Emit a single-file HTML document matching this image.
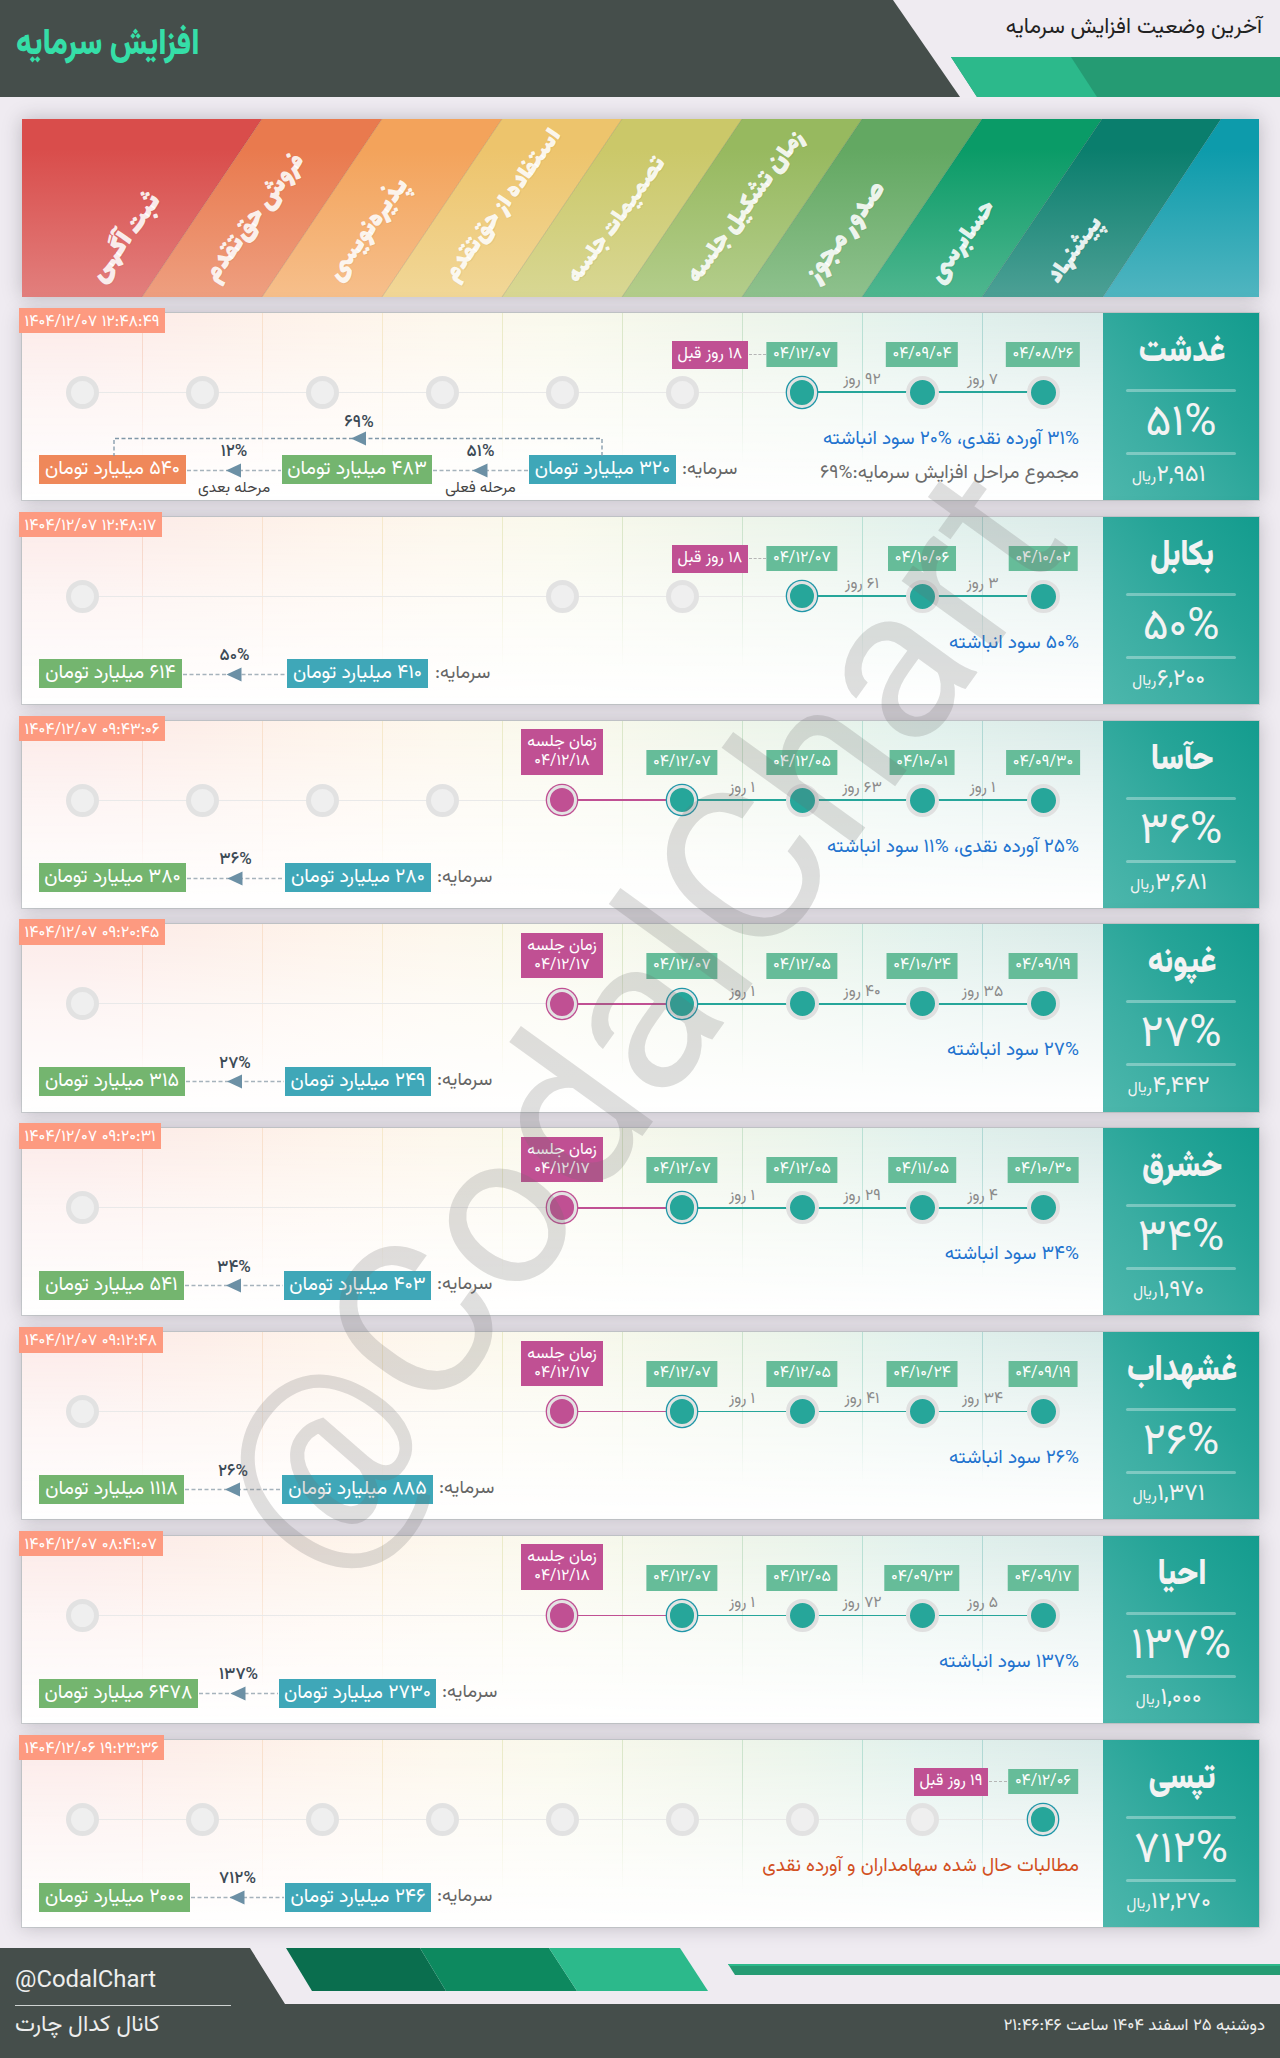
<!DOCTYPE html><html lang="fa" dir="rtl"><head><meta charset="utf-8"><title>افزایش سرمایه</title><style>
*{box-sizing:border-box;margin:0;padding:0}
html,body{width:1280px;height:2058px}
body{position:relative;background:#efebf1;overflow:hidden;font-family:"Vazirmatn","DejaVu Sans","Liberation Sans",sans-serif;direction:rtl}
.abs{position:absolute}
.hd{position:absolute;left:0;top:0}
.title{position:absolute;left:16px;top:21px;font-size:36px;font-weight:900;color:#35dea8;white-space:nowrap;line-height:48px;transform-origin:0 50%;transform:scaleX(.851)}
.sub{position:absolute;right:18px;top:12px;font-size:21.7px;color:#222;white-space:nowrap;line-height:32px}
.banner{position:absolute;left:22px;top:119px;width:1237px;height:178px;box-shadow:0 0 18px rgba(52,48,58,.27);overflow:hidden}
.banner svg{position:absolute;left:0;top:0}
.bl{position:absolute;white-space:nowrap;font-family:"Lalezar","Vazirmatn","DejaVu Sans","Liberation Sans",sans-serif;font-weight:700;font-synthesis:none;font-size:29.5px;line-height:36px;height:36px;color:rgba(255,255,255,.88);transform-origin:0 100%;transform:rotate(-54deg);text-shadow:0 1px 1px rgba(0,0,0,.06)}
.row{position:absolute;left:22px;width:1237px;height:187.2px;background:#fff;box-shadow:0 0 0 1px rgba(165,175,175,.45),0 0 18px rgba(52,48,58,.27)}
.tint{position:absolute;left:0;top:0;width:1081px;height:100%;background:linear-gradient(to bottom,rgba(255,255,255,0) 0%,rgba(255,255,255,.55) 45%,#fff 100%),linear-gradient(to right,#fceae8 0px,#fceae8 60px,#fdeee8 180px,#fef3ea 300px,#fdf7ec 420px,#f9f9ec 540px,#f2f6ea 660px,#eaf4ea 780px,#e1f1ec 900px,#dcece9 1020px,#d8eae8 1081px)}
.vl{position:absolute;top:0;width:1px;height:100%}
.hl{position:absolute;left:60px;top:79px;width:961px;height:1px;background:#e9e9e9}
.panel{position:absolute;left:1081px;top:0;width:156px;height:100%;background:linear-gradient(52deg,#4db7ac 0%,#3aada2 35%,#25a497 65%,#139c8e 100%);color:#f3f3f3}
.sym{position:absolute;left:1px;width:156px;top:15px;text-align:center;font-weight:900;font-size:36px;line-height:48px;white-space:nowrap;transform:scaleX(.85)}
.pl{position:absolute;left:23px;width:110px;height:3px;border-radius:2px;background:rgba(255,255,255,.33)}
.pct{position:absolute;left:0;width:156px;top:85px;text-align:center;font-size:44px;font-weight:370;line-height:54px;white-space:nowrap}
.price{position:absolute;left:0;width:156px;top:147px;text-align:center;font-size:23.5px;line-height:32px;white-space:nowrap}
.price small{position:absolute;font-size:15.5px;line-height:32px;top:1px;margin-right:.5px}
.price span{position:relative;display:inline-block}
.ts{position:absolute;left:-3px;top:-5px;height:25.5px;line-height:29px;padding:0 5.5px;background:#fd9a80;color:#fff;font-size:16.2px;direction:ltr;white-space:nowrap}
.db{position:absolute;top:29px;height:25.6px;line-height:26px;background:#66bc99;color:#fff;font-size:15.9px;text-align:center;direction:ltr;white-space:nowrap;padding:0 6.7px;transform:translateX(-50%)}
.pk{position:absolute;background:#c05093;color:#fff;text-align:center;white-space:nowrap}
.ago{top:28px;height:28px;line-height:27.5px;font-size:16.2px}
.mt{top:8.5px;width:82px;height:45.5px;font-size:16px;line-height:19px;padding-top:4px}
.mt i{font-style:normal;display:block;direction:ltr;font-size:15.8px}
.dsh{position:absolute;height:0;border-top:1.5px dashed #b5b5b5}
.c{position:absolute;top:63px;width:33px;height:33px;border-radius:50%}
.c.e{background:#efefef;border:5px solid #e2e2e2}
.c.t{background:#26a69a;border:4px solid #e0e0e0}
.c.cur{background:#26a69a;border:3.3px solid #e3e3e3;box-shadow:0 0 0 1.3px #1f97a8;width:30.6px;height:30.6px;top:64.2px}
.c.p{background:#c05093;border:3.3px solid #e3e3e3;box-shadow:0 0 0 1.3px #c05093;width:30.6px;height:30.6px;top:64.2px}
.ln{position:absolute;top:78.7px;height:1.6px}
.gap{position:absolute;top:56.3px;width:80px;text-align:center;font-size:15.7px;line-height:22px;color:#8a8a8a;white-space:nowrap}
.desc{position:absolute;right:180px;white-space:nowrap;font-size:19.1px;line-height:30px}
.d1{top:111px;color:#2273cf}
.d2{top:145px;color:#6b6b6b}
.cap{position:absolute;top:142.7px;height:29px;line-height:28px;color:#fff;font-size:19.5px;text-align:center;white-space:nowrap}
.cl{position:absolute;top:142px;font-size:18.5px;line-height:30px;color:#666;white-space:nowrap}
.ar{position:absolute;left:0;top:0}
.lb{position:absolute;width:90px;text-align:center;white-space:nowrap;color:#3c4a55}
.lp{font-size:17px;line-height:20px;margin-top:1.5px;font-weight:500}
.ls{font-size:15.3px;line-height:18px;color:#444}
.wm{position:absolute;left:0;top:0;pointer-events:none}
.ft{position:absolute;left:0;top:1948px}
.f1{position:absolute;left:15px;top:1963px}
.f2{position:absolute;left:15px;top:2005px;width:216px;height:1px;background:#cfd3d2}
.f3{position:absolute;left:15px;top:2010px;font-size:22.8px;line-height:32px;color:#eee;white-space:nowrap}
.f4{position:absolute;right:15px;top:2013px;font-size:16.8px;line-height:26px;color:#eee;white-space:nowrap}
</style></head><body>
<svg class="hd" width="1280" height="98" viewBox="0 0 1280 98"><polygon points="0,0 893,0 960,97 0,97" fill="#454e4b"/><polygon points="951,57 1280,57 1280,97 977,97" fill="#259b73"/><polygon points="951,57 1071,57 1097,97 977,97" fill="#2cb98b"/></svg>
<div class="title">افزایش سرمایه</div>
<div class="sub">آخرین وضعیت افزایش سرمایه</div>
<div class="banner"><svg width="1237" height="178" viewBox="0 0 1237 178"><defs>
<linearGradient id="g0" x1="0" y1="0" x2="0" y2="1"><stop offset="0" stop-color="#d94d4b"/><stop offset=".17" stop-color="#d94d4b"/><stop offset="1" stop-color="#e27f7d"/></linearGradient>
<linearGradient id="g1" x1="0" y1="0" x2="0" y2="1"><stop offset="0" stop-color="#e97a4e"/><stop offset=".17" stop-color="#e97a4e"/><stop offset="1" stop-color="#ee9f80"/></linearGradient>
<linearGradient id="g2" x1="0" y1="0" x2="0" y2="1"><stop offset="0" stop-color="#f3a35b"/><stop offset=".17" stop-color="#f3a35b"/><stop offset="1" stop-color="#f6bf8b"/></linearGradient>
<linearGradient id="g3" x1="0" y1="0" x2="0" y2="1"><stop offset="0" stop-color="#edc46c"/><stop offset=".17" stop-color="#edc46c"/><stop offset="1" stop-color="#f1d797"/></linearGradient>
<linearGradient id="g4" x1="0" y1="0" x2="0" y2="1"><stop offset="0" stop-color="#cbc869"/><stop offset=".17" stop-color="#cbc869"/><stop offset="1" stop-color="#d8d793"/></linearGradient>
<linearGradient id="g5" x1="0" y1="0" x2="0" y2="1"><stop offset="0" stop-color="#97b95f"/><stop offset=".17" stop-color="#97b95f"/><stop offset="1" stop-color="#b3cd8b"/></linearGradient>
<linearGradient id="g6" x1="0" y1="0" x2="0" y2="1"><stop offset="0" stop-color="#63a862"/><stop offset=".17" stop-color="#63a862"/><stop offset="1" stop-color="#8ec18d"/></linearGradient>
<linearGradient id="g7" x1="0" y1="0" x2="0" y2="1"><stop offset="0" stop-color="#0a9b67"/><stop offset=".17" stop-color="#0a9b67"/><stop offset="1" stop-color="#4fb68f"/></linearGradient>
<linearGradient id="g8" x1="0" y1="0" x2="0" y2="1"><stop offset="0" stop-color="#0a7e6d"/><stop offset=".17" stop-color="#0a7e6d"/><stop offset="1" stop-color="#4ca095"/></linearGradient>
<linearGradient id="g9" x1="0" y1="0" x2="0" y2="1"><stop offset="0" stop-color="#0d9bab"/><stop offset=".17" stop-color="#0d9bab"/><stop offset="1" stop-color="#50b5c0"/></linearGradient>
</defs>
<polygon points="0,0 240,0 120,178 0,178" fill="url(#g0)"/>
<polygon points="240,0 360,0 240,178 120,178" fill="url(#g1)"/>
<polygon points="360,0 480,0 360,178 240,178" fill="url(#g2)"/>
<polygon points="480,0 600,0 480,178 360,178" fill="url(#g3)"/>
<polygon points="600,0 720,0 600,178 480,178" fill="url(#g4)"/>
<polygon points="720,0 840,0 720,178 600,178" fill="url(#g5)"/>
<polygon points="840,0 960,0 840,178 720,178" fill="url(#g6)"/>
<polygon points="960,0 1080,0 960,178 840,178" fill="url(#g7)"/>
<polygon points="1080,0 1199,0 1081,178 960,178" fill="url(#g8)"/>
<polygon points="1199,0 1237,0 1237,178 1081,178" fill="url(#g9)"/>
<line x1="240" y1="0" x2="120" y2="178" stroke="rgba(0,0,0,.12)" stroke-width="1"/>
<line x1="360" y1="0" x2="240" y2="178" stroke="rgba(0,0,0,.12)" stroke-width="1"/>
<line x1="480" y1="0" x2="360" y2="178" stroke="rgba(0,0,0,.12)" stroke-width="1"/>
<line x1="600" y1="0" x2="480" y2="178" stroke="rgba(0,0,0,.12)" stroke-width="1"/>
<line x1="720" y1="0" x2="600" y2="178" stroke="rgba(0,0,0,.12)" stroke-width="1"/>
<line x1="840" y1="0" x2="720" y2="178" stroke="rgba(0,0,0,.12)" stroke-width="1"/>
<line x1="960" y1="0" x2="840" y2="178" stroke="rgba(0,0,0,.12)" stroke-width="1"/>
<line x1="1080" y1="0" x2="960" y2="178" stroke="rgba(0,0,0,.12)" stroke-width="1"/>
<line x1="1199" y1="0" x2="1081" y2="178" stroke="rgba(0,0,0,.12)" stroke-width="1"/>
</svg>
<div class="bl" style="left:89.1px;top:134.9px;font-size:30.81px">ثبت آگهی</div>
<div class="bl" style="left:203.0px;top:135.1px;font-size:29.41px">فروش حق‌تقدم</div>
<div class="bl" style="left:326.0px;top:134.3px;font-size:29.25px">پذیره‌نویسی</div>
<div class="bl" style="left:443.0px;top:135.4px;font-size:27.68px">استفاده از حق‌تقدم</div>
<div class="bl" style="left:565.9px;top:136.6px;font-size:26.9px">تصمیمات جلسه</div>
<div class="bl" style="left:686.4px;top:137.0px;font-size:28.26px">زمان تشکیل جلسه</div>
<div class="bl" style="left:804.8px;top:135.4px;font-size:30.96px">صدور مجوز</div>
<div class="bl" style="left:927.7px;top:136.5px;font-size:28.86px">حسابرسی</div>
<div class="bl" style="left:1046.0px;top:136.6px;font-size:27.0px">پیشنهاد</div>
</div>
<div class="row" style="top:312.8px"><div class="tint"></div><div class="vl" style="left:120px;background:linear-gradient(to bottom,#f6d3c4 0%,#f6d3c4 20%,rgba(255,255,255,0) 80%);opacity:.8"></div><div class="vl" style="left:240px;background:linear-gradient(to bottom,#f8ddc6 0%,#f8ddc6 20%,rgba(255,255,255,0) 80%);opacity:.8"></div><div class="vl" style="left:360px;background:linear-gradient(to bottom,#f5e6c4 0%,#f5e6c4 20%,rgba(255,255,255,0) 80%);opacity:.8"></div><div class="vl" style="left:480px;background:linear-gradient(to bottom,#e8e8c0 0%,#e8e8c0 20%,rgba(255,255,255,0) 80%);opacity:.8"></div><div class="vl" style="left:600px;background:linear-gradient(to bottom,#d5e3c1 0%,#d5e3c1 20%,rgba(255,255,255,0) 80%);opacity:.8"></div><div class="vl" style="left:720px;background:linear-gradient(to bottom,#c4dfc6 0%,#c4dfc6 20%,rgba(255,255,255,0) 80%);opacity:.8"></div><div class="vl" style="left:840px;background:linear-gradient(to bottom,#aedccf 0%,#aedccf 20%,rgba(255,255,255,0) 80%);opacity:.8"></div><div class="vl" style="left:960px;background:linear-gradient(to bottom,#a5d3cf 0%,#a5d3cf 20%,rgba(255,255,255,0) 80%);opacity:.8"></div><div class="hl"></div><div class="panel"><div class="sym">غدشت</div><div class="pl" style="top:76px"></div><div class="pct" dir="ltr">۵۱%</div><div class="pl" style="top:139px"></div><div class="price"><span>۲,۹۵۱<small>ریال</small></span></div></div><div class="ln" style="left:780px;width:241px;background:#26a69a"></div><div class="c e" style="left:43.5px"></div><div class="c e" style="left:163.5px"></div><div class="c e" style="left:283.5px"></div><div class="c e" style="left:403.5px"></div><div class="c e" style="left:523.5px"></div><div class="c e" style="left:643.5px"></div><div class="c t" style="left:1004.5px"></div><div class="db" style="left:1021px">۰۴/۰۸/۲۶</div><div class="c t" style="left:883.5px"></div><div class="db" style="left:900px">۰۴/۰۹/۰۴</div><div class="c cur" style="left:764.7px"></div><div class="db" style="left:780px">۰۴/۱۲/۰۷</div><div class="gap" style="left:920.5px">۷ روز</div><div class="gap" style="left:800.0px">۹۲ روز</div><div class="pk ago" style="left:650px;width:76px">۱۸ روز قبل</div><div class="dsh" style="left:727px;width:17.0px;top:41.5px"></div><div class="desc d1"><span dir="ltr">۳۱%</span> آورده نقدی، <span dir="ltr">۲۰%</span> سود انباشته</div><div class="desc d2">مجموع مراحل افزایش سرمایه:<span dir="ltr">۶۹%</span></div><div class="cl" style="left:660px">سرمایه:</div><div class="cap" style="left:507px;width:147px;background:#3fa7b8">۳۲۰ میلیارد تومان</div><div class="cap" style="left:260px;width:150px;background:#74b56f">۴۸۳ میلیارد تومان</div><div class="cap" style="left:17px;width:147px;background:#ef885a">۵۴۰ میلیارد تومان</div><div class="lb lp" style="left:413.5px;top:128px" dir="ltr">۵۱%</div><div class="lb ls" style="left:413.5px;top:166px">مرحله فعلی</div><div class="lb lp" style="left:167.0px;top:128px" dir="ltr">۱۲%</div><div class="lb ls" style="left:167.0px;top:166px">مرحله بعدی</div><div class="lb lp" style="left:292px;top:99px" dir="ltr">۶۹%</div><svg class="ar" width="1081" height="188" viewBox="0 0 1081 188"><line x1="411" y1="157.5" x2="506" y2="157.5" stroke="#a6b3bc" stroke-width="1.3" stroke-dasharray="4 2.5"/><polygon points="450.5,157.5 465.5,150.5 465.5,164.5" fill="#6c90a5"/><line x1="165" y1="157.5" x2="259" y2="157.5" stroke="#a6b3bc" stroke-width="1.3" stroke-dasharray="4 2.5"/><polygon points="204.0,157.5 219.0,150.5 219.0,164.5" fill="#6c90a5"/><polyline points="580,143 580,125.5 92,125.5 92,143" fill="none" stroke="#8097a8" stroke-width="1.3" stroke-dasharray="4 2.5"/><polygon points="329,125.5 344,118.5 344,132.5" fill="#6c90a5"/></svg><div class="ts">۱۴۰۴/۱۲/۰۷ ۱۲:۴۸:۴۹</div></div>
<div class="row" style="top:516.66px"><div class="tint"></div><div class="vl" style="left:120px;background:linear-gradient(to bottom,#f6d3c4 0%,#f6d3c4 20%,rgba(255,255,255,0) 80%);opacity:.8"></div><div class="vl" style="left:240px;background:linear-gradient(to bottom,#f8ddc6 0%,#f8ddc6 20%,rgba(255,255,255,0) 80%);opacity:.8"></div><div class="vl" style="left:360px;background:linear-gradient(to bottom,#f5e6c4 0%,#f5e6c4 20%,rgba(255,255,255,0) 80%);opacity:.8"></div><div class="vl" style="left:480px;background:linear-gradient(to bottom,#e8e8c0 0%,#e8e8c0 20%,rgba(255,255,255,0) 80%);opacity:.8"></div><div class="vl" style="left:600px;background:linear-gradient(to bottom,#d5e3c1 0%,#d5e3c1 20%,rgba(255,255,255,0) 80%);opacity:.8"></div><div class="vl" style="left:720px;background:linear-gradient(to bottom,#c4dfc6 0%,#c4dfc6 20%,rgba(255,255,255,0) 80%);opacity:.8"></div><div class="vl" style="left:840px;background:linear-gradient(to bottom,#aedccf 0%,#aedccf 20%,rgba(255,255,255,0) 80%);opacity:.8"></div><div class="vl" style="left:960px;background:linear-gradient(to bottom,#a5d3cf 0%,#a5d3cf 20%,rgba(255,255,255,0) 80%);opacity:.8"></div><div class="hl"></div><div class="panel"><div class="sym">بکابل</div><div class="pl" style="top:76px"></div><div class="pct" dir="ltr">۵۰%</div><div class="pl" style="top:139px"></div><div class="price"><span>۶,۲۰۰<small>ریال</small></span></div></div><div class="ln" style="left:780px;width:241px;background:#26a69a"></div><div class="c e" style="left:43.5px"></div><div class="c e" style="left:523.5px"></div><div class="c e" style="left:643.5px"></div><div class="c t" style="left:1004.5px"></div><div class="db" style="left:1021px">۰۴/۱۰/۰۲</div><div class="c t" style="left:883.5px"></div><div class="db" style="left:900px">۰۴/۱۰/۰۶</div><div class="c cur" style="left:764.7px"></div><div class="db" style="left:780px">۰۴/۱۲/۰۷</div><div class="gap" style="left:920.5px">۳ روز</div><div class="gap" style="left:800.0px">۶۱ روز</div><div class="pk ago" style="left:650px;width:76px">۱۸ روز قبل</div><div class="dsh" style="left:727px;width:17.0px;top:41.5px"></div><div class="desc d1"><span dir="ltr">۵۰%</span> سود انباشته</div><div class="cl" style="left:413px">سرمایه:</div><div class="cap" style="left:265px;width:141px;background:#3fa7b8">۴۱۰ میلیارد تومان</div><div class="cap" style="left:17px;width:143px;background:#74b56f">۶۱۴ میلیارد تومان</div><div class="lb lp" style="left:167.5px;top:128px" dir="ltr">۵۰%</div><svg class="ar" width="1081" height="188" viewBox="0 0 1081 188"><line x1="161" y1="157.5" x2="264" y2="157.5" stroke="#a6b3bc" stroke-width="1.3" stroke-dasharray="4 2.5"/><polygon points="204.5,157.5 219.5,150.5 219.5,164.5" fill="#6c90a5"/></svg><div class="ts">۱۴۰۴/۱۲/۰۷ ۱۲:۴۸:۱۷</div></div>
<div class="row" style="top:720.52px"><div class="tint"></div><div class="vl" style="left:120px;background:linear-gradient(to bottom,#f6d3c4 0%,#f6d3c4 20%,rgba(255,255,255,0) 80%);opacity:.8"></div><div class="vl" style="left:240px;background:linear-gradient(to bottom,#f8ddc6 0%,#f8ddc6 20%,rgba(255,255,255,0) 80%);opacity:.8"></div><div class="vl" style="left:360px;background:linear-gradient(to bottom,#f5e6c4 0%,#f5e6c4 20%,rgba(255,255,255,0) 80%);opacity:.8"></div><div class="vl" style="left:480px;background:linear-gradient(to bottom,#e8e8c0 0%,#e8e8c0 20%,rgba(255,255,255,0) 80%);opacity:.8"></div><div class="vl" style="left:600px;background:linear-gradient(to bottom,#d5e3c1 0%,#d5e3c1 20%,rgba(255,255,255,0) 80%);opacity:.8"></div><div class="vl" style="left:720px;background:linear-gradient(to bottom,#c4dfc6 0%,#c4dfc6 20%,rgba(255,255,255,0) 80%);opacity:.8"></div><div class="vl" style="left:840px;background:linear-gradient(to bottom,#aedccf 0%,#aedccf 20%,rgba(255,255,255,0) 80%);opacity:.8"></div><div class="vl" style="left:960px;background:linear-gradient(to bottom,#a5d3cf 0%,#a5d3cf 20%,rgba(255,255,255,0) 80%);opacity:.8"></div><div class="hl"></div><div class="panel"><div class="sym">حآسا</div><div class="pl" style="top:76px"></div><div class="pct" dir="ltr">۳۶%</div><div class="pl" style="top:139px"></div><div class="price"><span>۳,۶۸۱<small>ریال</small></span></div></div><div class="ln" style="left:660px;width:361px;background:#26a69a"></div><div class="ln" style="left:540px;width:120px;background:#c05093"></div><div class="c e" style="left:43.5px"></div><div class="c e" style="left:163.5px"></div><div class="c e" style="left:283.5px"></div><div class="c e" style="left:403.5px"></div><div class="c t" style="left:1004.5px"></div><div class="db" style="left:1021px">۰۴/۰۹/۳۰</div><div class="c t" style="left:883.5px"></div><div class="db" style="left:900px">۰۴/۱۰/۰۱</div><div class="c t" style="left:763.5px"></div><div class="db" style="left:780px">۰۴/۱۲/۰۵</div><div class="c cur" style="left:644.7px"></div><div class="db" style="left:660px">۰۴/۱۲/۰۷</div><div class="gap" style="left:920.5px">۱ روز</div><div class="gap" style="left:800.0px">۶۳ روز</div><div class="gap" style="left:680.0px">۱ روز</div><div class="c p" style="left:524.7px"></div><div class="pk mt" style="left:499px">زمان جلسه<i>۰۴/۱۲/۱۸</i></div><div class="desc d1"><span dir="ltr">۲۵%</span> آورده نقدی، <span dir="ltr">۱۱%</span> سود انباشته</div><div class="cl" style="left:415px">سرمایه:</div><div class="cap" style="left:263px;width:146px;background:#3fa7b8">۲۸۰ میلیارد تومان</div><div class="cap" style="left:17px;width:147px;background:#74b56f">۳۸۰ میلیارد تومان</div><div class="lb lp" style="left:168.5px;top:128px" dir="ltr">۳۶%</div><svg class="ar" width="1081" height="188" viewBox="0 0 1081 188"><line x1="165" y1="157.5" x2="262" y2="157.5" stroke="#a6b3bc" stroke-width="1.3" stroke-dasharray="4 2.5"/><polygon points="205.5,157.5 220.5,150.5 220.5,164.5" fill="#6c90a5"/></svg><div class="ts">۱۴۰۴/۱۲/۰۷ ۰۹:۴۳:۰۶</div></div>
<div class="row" style="top:924.38px"><div class="tint"></div><div class="vl" style="left:120px;background:linear-gradient(to bottom,#f6d3c4 0%,#f6d3c4 20%,rgba(255,255,255,0) 80%);opacity:.8"></div><div class="vl" style="left:240px;background:linear-gradient(to bottom,#f8ddc6 0%,#f8ddc6 20%,rgba(255,255,255,0) 80%);opacity:.8"></div><div class="vl" style="left:360px;background:linear-gradient(to bottom,#f5e6c4 0%,#f5e6c4 20%,rgba(255,255,255,0) 80%);opacity:.8"></div><div class="vl" style="left:480px;background:linear-gradient(to bottom,#e8e8c0 0%,#e8e8c0 20%,rgba(255,255,255,0) 80%);opacity:.8"></div><div class="vl" style="left:600px;background:linear-gradient(to bottom,#d5e3c1 0%,#d5e3c1 20%,rgba(255,255,255,0) 80%);opacity:.8"></div><div class="vl" style="left:720px;background:linear-gradient(to bottom,#c4dfc6 0%,#c4dfc6 20%,rgba(255,255,255,0) 80%);opacity:.8"></div><div class="vl" style="left:840px;background:linear-gradient(to bottom,#aedccf 0%,#aedccf 20%,rgba(255,255,255,0) 80%);opacity:.8"></div><div class="vl" style="left:960px;background:linear-gradient(to bottom,#a5d3cf 0%,#a5d3cf 20%,rgba(255,255,255,0) 80%);opacity:.8"></div><div class="hl"></div><div class="panel"><div class="sym">غپونه</div><div class="pl" style="top:76px"></div><div class="pct" dir="ltr">۲۷%</div><div class="pl" style="top:139px"></div><div class="price"><span>۴,۴۴۲<small>ریال</small></span></div></div><div class="ln" style="left:660px;width:361px;background:#26a69a"></div><div class="ln" style="left:540px;width:120px;background:#c05093"></div><div class="c e" style="left:43.5px"></div><div class="c t" style="left:1004.5px"></div><div class="db" style="left:1021px">۰۴/۰۹/۱۹</div><div class="c t" style="left:883.5px"></div><div class="db" style="left:900px">۰۴/۱۰/۲۴</div><div class="c t" style="left:763.5px"></div><div class="db" style="left:780px">۰۴/۱۲/۰۵</div><div class="c cur" style="left:644.7px"></div><div class="db" style="left:660px">۰۴/۱۲/۰۷</div><div class="gap" style="left:920.5px">۳۵ روز</div><div class="gap" style="left:800.0px">۴۰ روز</div><div class="gap" style="left:680.0px">۱ روز</div><div class="c p" style="left:524.7px"></div><div class="pk mt" style="left:499px">زمان جلسه<i>۰۴/۱۲/۱۷</i></div><div class="desc d1"><span dir="ltr">۲۷%</span> سود انباشته</div><div class="cl" style="left:415px">سرمایه:</div><div class="cap" style="left:263px;width:146px;background:#3fa7b8">۲۴۹ میلیارد تومان</div><div class="cap" style="left:17px;width:146px;background:#74b56f">۳۱۵ میلیارد تومان</div><div class="lb lp" style="left:168.0px;top:128px" dir="ltr">۲۷%</div><svg class="ar" width="1081" height="188" viewBox="0 0 1081 188"><line x1="164" y1="157.5" x2="262" y2="157.5" stroke="#a6b3bc" stroke-width="1.3" stroke-dasharray="4 2.5"/><polygon points="205.0,157.5 220.0,150.5 220.0,164.5" fill="#6c90a5"/></svg><div class="ts">۱۴۰۴/۱۲/۰۷ ۰۹:۲۰:۴۵</div></div>
<div class="row" style="top:1128.24px"><div class="tint"></div><div class="vl" style="left:120px;background:linear-gradient(to bottom,#f6d3c4 0%,#f6d3c4 20%,rgba(255,255,255,0) 80%);opacity:.8"></div><div class="vl" style="left:240px;background:linear-gradient(to bottom,#f8ddc6 0%,#f8ddc6 20%,rgba(255,255,255,0) 80%);opacity:.8"></div><div class="vl" style="left:360px;background:linear-gradient(to bottom,#f5e6c4 0%,#f5e6c4 20%,rgba(255,255,255,0) 80%);opacity:.8"></div><div class="vl" style="left:480px;background:linear-gradient(to bottom,#e8e8c0 0%,#e8e8c0 20%,rgba(255,255,255,0) 80%);opacity:.8"></div><div class="vl" style="left:600px;background:linear-gradient(to bottom,#d5e3c1 0%,#d5e3c1 20%,rgba(255,255,255,0) 80%);opacity:.8"></div><div class="vl" style="left:720px;background:linear-gradient(to bottom,#c4dfc6 0%,#c4dfc6 20%,rgba(255,255,255,0) 80%);opacity:.8"></div><div class="vl" style="left:840px;background:linear-gradient(to bottom,#aedccf 0%,#aedccf 20%,rgba(255,255,255,0) 80%);opacity:.8"></div><div class="vl" style="left:960px;background:linear-gradient(to bottom,#a5d3cf 0%,#a5d3cf 20%,rgba(255,255,255,0) 80%);opacity:.8"></div><div class="hl"></div><div class="panel"><div class="sym">خشرق</div><div class="pl" style="top:76px"></div><div class="pct" dir="ltr">۳۴%</div><div class="pl" style="top:139px"></div><div class="price"><span>۱,۹۷۰<small>ریال</small></span></div></div><div class="ln" style="left:660px;width:361px;background:#26a69a"></div><div class="ln" style="left:540px;width:120px;background:#c05093"></div><div class="c e" style="left:43.5px"></div><div class="c t" style="left:1004.5px"></div><div class="db" style="left:1021px">۰۴/۱۰/۳۰</div><div class="c t" style="left:883.5px"></div><div class="db" style="left:900px">۰۴/۱۱/۰۵</div><div class="c t" style="left:763.5px"></div><div class="db" style="left:780px">۰۴/۱۲/۰۵</div><div class="c cur" style="left:644.7px"></div><div class="db" style="left:660px">۰۴/۱۲/۰۷</div><div class="gap" style="left:920.5px">۴ روز</div><div class="gap" style="left:800.0px">۲۹ روز</div><div class="gap" style="left:680.0px">۱ روز</div><div class="c p" style="left:524.7px"></div><div class="pk mt" style="left:499px">زمان جلسه<i>۰۴/۱۲/۱۷</i></div><div class="desc d1"><span dir="ltr">۳۴%</span> سود انباشته</div><div class="cl" style="left:415px">سرمایه:</div><div class="cap" style="left:262px;width:147px;background:#3fa7b8">۴۰۳ میلیارد تومان</div><div class="cap" style="left:17px;width:145px;background:#74b56f">۵۴۱ میلیارد تومان</div><div class="lb lp" style="left:167.0px;top:128px" dir="ltr">۳۴%</div><svg class="ar" width="1081" height="188" viewBox="0 0 1081 188"><line x1="163" y1="157.5" x2="261" y2="157.5" stroke="#a6b3bc" stroke-width="1.3" stroke-dasharray="4 2.5"/><polygon points="204.0,157.5 219.0,150.5 219.0,164.5" fill="#6c90a5"/></svg><div class="ts">۱۴۰۴/۱۲/۰۷ ۰۹:۲۰:۳۱</div></div>
<div class="row" style="top:1332.1px"><div class="tint"></div><div class="vl" style="left:120px;background:linear-gradient(to bottom,#f6d3c4 0%,#f6d3c4 20%,rgba(255,255,255,0) 80%);opacity:.8"></div><div class="vl" style="left:240px;background:linear-gradient(to bottom,#f8ddc6 0%,#f8ddc6 20%,rgba(255,255,255,0) 80%);opacity:.8"></div><div class="vl" style="left:360px;background:linear-gradient(to bottom,#f5e6c4 0%,#f5e6c4 20%,rgba(255,255,255,0) 80%);opacity:.8"></div><div class="vl" style="left:480px;background:linear-gradient(to bottom,#e8e8c0 0%,#e8e8c0 20%,rgba(255,255,255,0) 80%);opacity:.8"></div><div class="vl" style="left:600px;background:linear-gradient(to bottom,#d5e3c1 0%,#d5e3c1 20%,rgba(255,255,255,0) 80%);opacity:.8"></div><div class="vl" style="left:720px;background:linear-gradient(to bottom,#c4dfc6 0%,#c4dfc6 20%,rgba(255,255,255,0) 80%);opacity:.8"></div><div class="vl" style="left:840px;background:linear-gradient(to bottom,#aedccf 0%,#aedccf 20%,rgba(255,255,255,0) 80%);opacity:.8"></div><div class="vl" style="left:960px;background:linear-gradient(to bottom,#a5d3cf 0%,#a5d3cf 20%,rgba(255,255,255,0) 80%);opacity:.8"></div><div class="hl"></div><div class="panel"><div class="sym">غشهداب</div><div class="pl" style="top:76px"></div><div class="pct" dir="ltr">۲۶%</div><div class="pl" style="top:139px"></div><div class="price"><span>۱,۳۷۱<small>ریال</small></span></div></div><div class="ln" style="left:660px;width:361px;background:#26a69a"></div><div class="ln" style="left:540px;width:120px;background:#c05093"></div><div class="c e" style="left:43.5px"></div><div class="c t" style="left:1004.5px"></div><div class="db" style="left:1021px">۰۴/۰۹/۱۹</div><div class="c t" style="left:883.5px"></div><div class="db" style="left:900px">۰۴/۱۰/۲۴</div><div class="c t" style="left:763.5px"></div><div class="db" style="left:780px">۰۴/۱۲/۰۵</div><div class="c cur" style="left:644.7px"></div><div class="db" style="left:660px">۰۴/۱۲/۰۷</div><div class="gap" style="left:920.5px">۳۴ روز</div><div class="gap" style="left:800.0px">۴۱ روز</div><div class="gap" style="left:680.0px">۱ روز</div><div class="c p" style="left:524.7px"></div><div class="pk mt" style="left:499px">زمان جلسه<i>۰۴/۱۲/۱۷</i></div><div class="desc d1"><span dir="ltr">۲۶%</span> سود انباشته</div><div class="cl" style="left:417px">سرمایه:</div><div class="cap" style="left:260px;width:151px;background:#3fa7b8">۸۸۵ میلیارد تومان</div><div class="cap" style="left:17px;width:145px;background:#74b56f">۱۱۱۸ میلیارد تومان</div><div class="lb lp" style="left:166.0px;top:128px" dir="ltr">۲۶%</div><svg class="ar" width="1081" height="188" viewBox="0 0 1081 188"><line x1="163" y1="157.5" x2="259" y2="157.5" stroke="#a6b3bc" stroke-width="1.3" stroke-dasharray="4 2.5"/><polygon points="203.0,157.5 218.0,150.5 218.0,164.5" fill="#6c90a5"/></svg><div class="ts">۱۴۰۴/۱۲/۰۷ ۰۹:۱۲:۴۸</div></div>
<div class="row" style="top:1535.96px"><div class="tint"></div><div class="vl" style="left:120px;background:linear-gradient(to bottom,#f6d3c4 0%,#f6d3c4 20%,rgba(255,255,255,0) 80%);opacity:.8"></div><div class="vl" style="left:240px;background:linear-gradient(to bottom,#f8ddc6 0%,#f8ddc6 20%,rgba(255,255,255,0) 80%);opacity:.8"></div><div class="vl" style="left:360px;background:linear-gradient(to bottom,#f5e6c4 0%,#f5e6c4 20%,rgba(255,255,255,0) 80%);opacity:.8"></div><div class="vl" style="left:480px;background:linear-gradient(to bottom,#e8e8c0 0%,#e8e8c0 20%,rgba(255,255,255,0) 80%);opacity:.8"></div><div class="vl" style="left:600px;background:linear-gradient(to bottom,#d5e3c1 0%,#d5e3c1 20%,rgba(255,255,255,0) 80%);opacity:.8"></div><div class="vl" style="left:720px;background:linear-gradient(to bottom,#c4dfc6 0%,#c4dfc6 20%,rgba(255,255,255,0) 80%);opacity:.8"></div><div class="vl" style="left:840px;background:linear-gradient(to bottom,#aedccf 0%,#aedccf 20%,rgba(255,255,255,0) 80%);opacity:.8"></div><div class="vl" style="left:960px;background:linear-gradient(to bottom,#a5d3cf 0%,#a5d3cf 20%,rgba(255,255,255,0) 80%);opacity:.8"></div><div class="hl"></div><div class="panel"><div class="sym">احیا</div><div class="pl" style="top:76px"></div><div class="pct" dir="ltr">۱۳۷%</div><div class="pl" style="top:139px"></div><div class="price"><span>۱,۰۰۰<small>ریال</small></span></div></div><div class="ln" style="left:660px;width:361px;background:#26a69a"></div><div class="ln" style="left:540px;width:120px;background:#c05093"></div><div class="c e" style="left:43.5px"></div><div class="c t" style="left:1004.5px"></div><div class="db" style="left:1021px">۰۴/۰۹/۱۷</div><div class="c t" style="left:883.5px"></div><div class="db" style="left:900px">۰۴/۰۹/۲۳</div><div class="c t" style="left:763.5px"></div><div class="db" style="left:780px">۰۴/۱۲/۰۵</div><div class="c cur" style="left:644.7px"></div><div class="db" style="left:660px">۰۴/۱۲/۰۷</div><div class="gap" style="left:920.5px">۵ روز</div><div class="gap" style="left:800.0px">۷۲ روز</div><div class="gap" style="left:680.0px">۱ روز</div><div class="c p" style="left:524.7px"></div><div class="pk mt" style="left:499px">زمان جلسه<i>۰۴/۱۲/۱۸</i></div><div class="desc d1"><span dir="ltr">۱۳۷%</span> سود انباشته</div><div class="cl" style="left:420px">سرمایه:</div><div class="cap" style="left:257px;width:157px;background:#3fa7b8">۲۷۳۰ میلیارد تومان</div><div class="cap" style="left:17px;width:159px;background:#74b56f">۶۴۷۸ میلیارد تومان</div><div class="lb lp" style="left:171.5px;top:128px" dir="ltr">۱۳۷%</div><svg class="ar" width="1081" height="188" viewBox="0 0 1081 188"><line x1="177" y1="157.5" x2="256" y2="157.5" stroke="#a6b3bc" stroke-width="1.3" stroke-dasharray="4 2.5"/><polygon points="208.5,157.5 223.5,150.5 223.5,164.5" fill="#6c90a5"/></svg><div class="ts">۱۴۰۴/۱۲/۰۷ ۰۸:۴۱:۰۷</div></div>
<div class="row" style="top:1739.82px"><div class="tint"></div><div class="vl" style="left:120px;background:linear-gradient(to bottom,#f6d3c4 0%,#f6d3c4 20%,rgba(255,255,255,0) 80%);opacity:.8"></div><div class="vl" style="left:240px;background:linear-gradient(to bottom,#f8ddc6 0%,#f8ddc6 20%,rgba(255,255,255,0) 80%);opacity:.8"></div><div class="vl" style="left:360px;background:linear-gradient(to bottom,#f5e6c4 0%,#f5e6c4 20%,rgba(255,255,255,0) 80%);opacity:.8"></div><div class="vl" style="left:480px;background:linear-gradient(to bottom,#e8e8c0 0%,#e8e8c0 20%,rgba(255,255,255,0) 80%);opacity:.8"></div><div class="vl" style="left:600px;background:linear-gradient(to bottom,#d5e3c1 0%,#d5e3c1 20%,rgba(255,255,255,0) 80%);opacity:.8"></div><div class="vl" style="left:720px;background:linear-gradient(to bottom,#c4dfc6 0%,#c4dfc6 20%,rgba(255,255,255,0) 80%);opacity:.8"></div><div class="vl" style="left:840px;background:linear-gradient(to bottom,#aedccf 0%,#aedccf 20%,rgba(255,255,255,0) 80%);opacity:.8"></div><div class="vl" style="left:960px;background:linear-gradient(to bottom,#a5d3cf 0%,#a5d3cf 20%,rgba(255,255,255,0) 80%);opacity:.8"></div><div class="hl"></div><div class="panel"><div class="sym">تپسی</div><div class="pl" style="top:76px"></div><div class="pct" dir="ltr">۷۱۲%</div><div class="pl" style="top:139px"></div><div class="price"><span>۱۲,۲۷۰<small>ریال</small></span></div></div><div class="c e" style="left:43.5px"></div><div class="c e" style="left:163.5px"></div><div class="c e" style="left:283.5px"></div><div class="c e" style="left:403.5px"></div><div class="c e" style="left:523.5px"></div><div class="c e" style="left:643.5px"></div><div class="c e" style="left:763.5px"></div><div class="c e" style="left:883.5px"></div><div class="c cur" style="left:1005.7px"></div><div class="db" style="left:1021px">۰۴/۱۲/۰۶</div><div class="pk ago" style="left:892px;width:74px">۱۹ روز قبل</div><div class="dsh" style="left:967px;width:18.0px;top:41.5px"></div><div class="desc d1" style=color:#d2501f>مطالبات حال شده سهامداران و آورده نقدی</div><div class="cl" style="left:415px">سرمایه:</div><div class="cap" style="left:263px;width:146px;background:#3fa7b8">۲۴۶ میلیارد تومان</div><div class="cap" style="left:17px;width:151px;background:#74b56f">۲۰۰۰ میلیارد تومان</div><div class="lb lp" style="left:170.5px;top:128px" dir="ltr">۷۱۲%</div><svg class="ar" width="1081" height="188" viewBox="0 0 1081 188"><line x1="169" y1="157.5" x2="262" y2="157.5" stroke="#a6b3bc" stroke-width="1.3" stroke-dasharray="4 2.5"/><polygon points="207.5,157.5 222.5,150.5 222.5,164.5" fill="#6c90a5"/></svg><div class="ts">۱۴۰۴/۱۲/۰۶ ۱۹:۲۳:۳۶</div></div>
<svg class="ft" width="1280" height="110" viewBox="0 0 1280 110"><polygon points="0,0 250,0 285,56 1280,56 1280,110 0,110" fill="#454e4b"/><polygon points="286,0 420,0 446,43 312,43" fill="#0a6e4e"/><polygon points="420,0 549,0 577,43 446,43" fill="#0d895f"/><polygon points="549,0 680,0 708,43 577,43" fill="#2cb98b"/><polygon points="728,16 1280,16 1280,27 735,27" fill="#259b73"/><polygon points="728,16 1280,16 1280,18 729.5,18" fill="#2cb98b"/></svg>
<svg class="f1" width="160" height="34" viewBox="0 0 160 34"><text x="0" y="24" textLength="141" lengthAdjust="spacingAndGlyphs" font-family="Roboto, 'Liberation Sans', sans-serif" font-size="23.8" fill="#eee" direction="ltr">@CodalChart</text></svg><div class="f2"></div><div class="f3">کانال کدال چارت</div>
<div class="f4">دوشنبه ۲۵ اسفند ۱۴۰۴ ساعت ۲۱:۴۶:۴۶</div>
<svg class="wm" width="1280" height="2058" viewBox="0 0 1280 2058"><text transform="translate(172.04 1474.5) rotate(-54.15)" x="97.6 266.0 398.7 522.0 642.4 728.0 825.1 955.8 1074.7 1173.4 1248.4" y="183" text-anchor="middle" font-family="Roboto, 'Liberation Sans', sans-serif" font-size="217.4" fill="rgb(110,110,110)" fill-opacity=".22" direction="ltr">@CodalChart</text></svg>
</body></html>
